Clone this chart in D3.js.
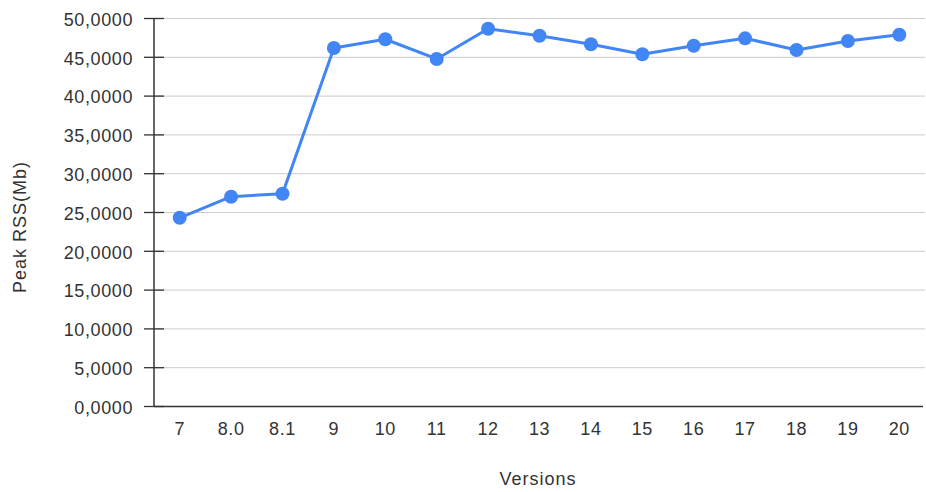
<!DOCTYPE html>
<html><head><meta charset="utf-8">
<script src="https://cdn.jsdelivr.net/npm/d3@7"></script>
<style>body{margin:0;background:#fff}svg{display:block}text{font-family:"Liberation Sans",Arial,sans-serif}</style>
</head><body><svg id="c" width="926" height="492"></svg>
<script>
const versions = ["7","8.0","8.1","9","10","11","12","13","14","15","16","17","18","19","20"];
const peakRss = [24.25,26.97,27.36,46.13,47.26,44.72,48.62,47.72,46.61,45.32,46.43,47.38,45.88,47.04,47.85];
const yTicks = [0,5,10,15,20,25,30,35,40,45,50];

(function () {
const svg = d3.select("#c");
const pl = 154, pr = 925, pt = 18, pb = 406;
const x = d3.scaleBand().domain(versions).range([pl, pr]).padding(0);
const y = d3.scaleLinear().domain([0, 50]).range([pb, pt]);
const loc = d3.formatLocale({decimal: ",", thousands: ".", grouping: [3], currency: ["", ""]});
const fmt = loc.format(".4f");
const cx = d => x(d) + x.bandwidth() / 2;
const txt = "#333333";

// gridlines
svg.append("g").selectAll("line").data(yTicks.filter(t => t > 0)).join("line")
  .attr("x1", pl).attr("x2", pr)
  .attr("y1", d => y(d) + 0.5).attr("y2", d => y(d) + 0.5)
  .attr("stroke", "#cccccc").attr("stroke-width", 1);

// y axis
const ya = svg.append("g").attr("transform", `translate(${pl},0)`)
  .call(d3.axisLeft(y).tickValues(yTicks).tickFormat(fmt).tickSize(10).tickPadding(11));
ya.select(".domain").remove();
ya.selectAll(".tick line").attr("x2", 10).attr("x1", -10).attr("stroke", "#333").attr("stroke-width", 1.3);
ya.selectAll(".tick text").attr("font-size", 18).attr("letter-spacing", 0.6).attr("fill", txt)
  .attr("font-family", "Liberation Sans, Arial, sans-serif").attr("dy", "0.4em");
svg.append("line").attr("x1", pl).attr("x2", pl).attr("y1", pt).attr("y2", pb + 1)
  .attr("stroke", "#333").attr("stroke-width", 1.5);

// x axis
const xa = svg.append("g").attr("transform", `translate(0,${pb})`)
  .call(d3.axisBottom(x).tickSize(0).tickPadding(16));
xa.select(".domain").remove();
xa.selectAll(".tick text").attr("font-size", 18).attr("letter-spacing", 0.6).attr("fill", txt)
  .attr("font-family", "Liberation Sans, Arial, sans-serif");
svg.append("line").attr("x1", pl).attr("x2", pr - 2).attr("y1", pb + 0.5).attr("y2", pb + 0.5)
  .attr("stroke", "#333").attr("stroke-width", 1.3);

// line
const line = d3.line().x((d, i) => cx(versions[i])).y(d => y(d));
svg.append("path").datum(peakRss).attr("d", line)
  .attr("fill", "none").attr("stroke", "#4285F4").attr("stroke-width", 3).attr("stroke-linejoin", "round");
svg.append("g").selectAll("circle").data(peakRss).join("circle")
  .attr("cx", (d, i) => cx(versions[i])).attr("cy", d => y(d)).attr("r", 7).attr("fill", "#4285F4");

// titles
svg.append("text").attr("x", 538).attr("y", 485).attr("text-anchor", "middle")
  .attr("font-size", 18).attr("letter-spacing", 1).attr("fill", txt).text("Versions");
svg.append("text").attr("transform", "translate(26,227) rotate(-90)").attr("text-anchor", "middle")
  .attr("font-size", 18).attr("letter-spacing", 1).attr("fill", txt).text("Peak RSS(Mb)");
})();
</script></body></html>
